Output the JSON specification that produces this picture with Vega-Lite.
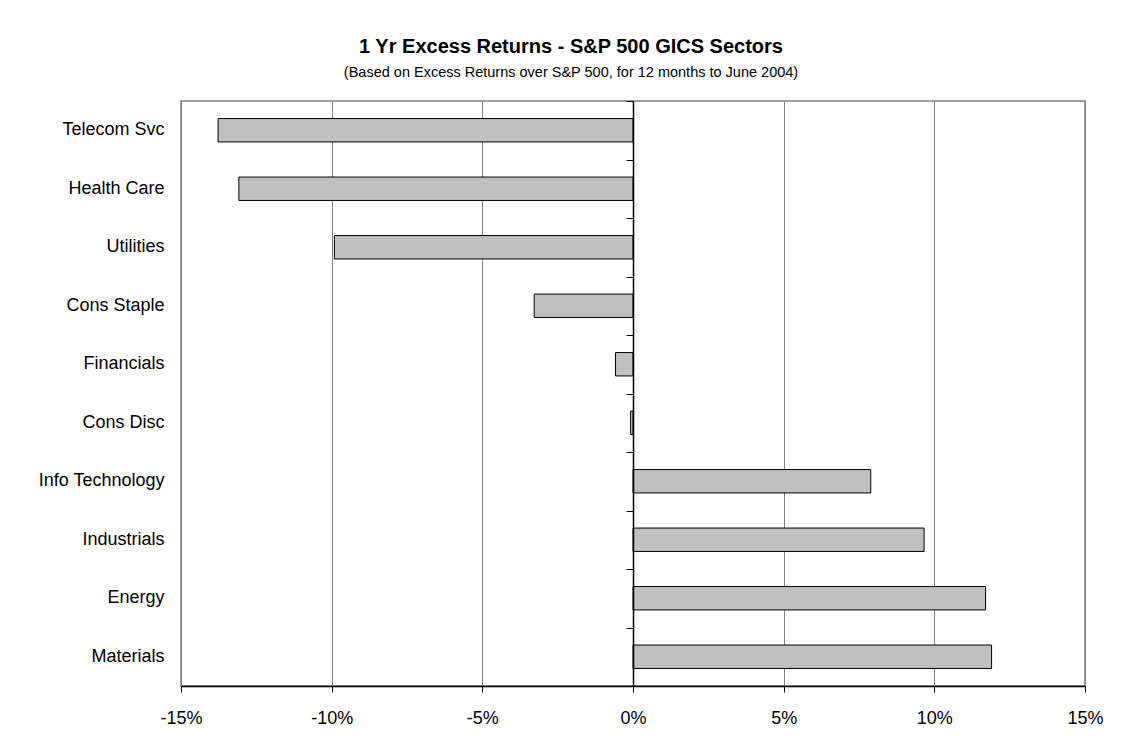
{
  "$schema": "https://vega.github.io/schema/vega-lite/v6.json",
  "autosize": {"type": "none"},
  "width": 904,
  "height": 585,
  "padding": {"left": 181, "top": 101, "right": 47, "bottom": 56},
  "background": "white",
  "title": {
    "text": "1 Yr Excess Returns - S&P 500 GICS Sectors",
    "subtitle": "(Based on Excess Returns over S&P 500, for 12 months to June 2004)",
    "anchor": "middle",
    "frame": "group",
    "dx": -62,
    "offset": 21,
    "font": "Liberation Sans, Arial",
    "fontSize": 20,
    "fontWeight": "bold",
    "color": "black",
    "subtitleFont": "Liberation Sans, Arial",
    "subtitleFontSize": 14.5,
    "subtitleColor": "black",
    "subtitlePadding": 9
  },
  "data": {
    "values": [
      {"sector": "Telecom Svc", "value": -0.1377},
      {"sector": "Health Care", "value": -0.1308},
      {"sector": "Utilities", "value": -0.0991},
      {"sector": "Cons Staple", "value": -0.0328},
      {"sector": "Financials", "value": -0.0058},
      {"sector": "Cons Disc", "value": -0.0008},
      {"sector": "Info Technology", "value": 0.0789},
      {"sector": "Industrials", "value": 0.0966},
      {"sector": "Energy", "value": 0.1170},
      {"sector": "Materials", "value": 0.1190}
    ]
  },
  "encoding": {
    "x": {
      "field": "value",
      "type": "quantitative",
      "title": null,
      "scale": {"domain": [-0.15, 0.15], "nice": false, "zero": false},
      "axis": {
        "values": [-0.15, -0.1, -0.05, 0, 0.05, 0.1, 0.15],
        "labelExpr": "round(datum.value * 100) + '%'",
        "labelFlush": false,
        "labelOverlap": false,
        "grid": true,
        "gridColor": "#808080",
        "gridWidth": 1,
        "domain": true,
        "domainColor": "black",
        "domainWidth": 1.5,
        "ticks": true,
        "tickSize": 6,
        "tickColor": "black",
        "tickWidth": 1,
        "labelPadding": 17,
        "labelFont": "Liberation Sans, Arial",
        "labelFontSize": 18,
        "labelColor": "black"
      }
    }
  },
  "layer": [
    {
      "mark": {"type": "bar", "opacity": 0},
      "encoding": {
        "y": {
          "field": "sector",
          "type": "nominal",
          "title": null,
          "sort": ["Telecom Svc", "Health Care", "Utilities", "Cons Staple", "Financials", "Cons Disc", "Info Technology", "Industrials", "Energy", "Materials"],
          "scale": {"paddingInner": 0.6, "paddingOuter": 0.3},
          "axis": {
            "orient": "left",
            "domain": false,
            "ticks": false,
            "tickSize": 0,
            "grid": false,
            "labelPadding": 17,
            "labelFont": "Liberation Sans, Arial",
            "labelFontSize": 18,
            "labelColor": "black"
          }
        }
      }
    },
    {
      "mark": {"type": "bar", "fill": "#C0C0C0", "stroke": "black", "strokeWidth": 1},
      "encoding": {
        "y": {
          "field": "sector",
          "type": "nominal",
          "title": null,
          "sort": ["Telecom Svc", "Health Care", "Utilities", "Cons Staple", "Financials", "Cons Disc", "Info Technology", "Industrials", "Energy", "Materials"],
          "scale": {"paddingInner": 0.6, "paddingOuter": 0.3},
          "axis": {
            "orient": "left",
            "offset": -452,
            "labels": false,
            "grid": false,
            "domain": true,
            "domainColor": "black",
            "domainWidth": 1.5,
            "ticks": true,
            "tickBand": "center",
            "tickOffset": -29.25,
            "tickSize": 7,
            "tickColor": "black",
            "tickWidth": 1,
            "zindex": 1
          }
        }
      }
    }
  ],
  "resolve": {"axis": {"y": "independent"}},
  "config": {
    "view": {"stroke": "#808080", "strokeWidth": 1.5}
  }
}
